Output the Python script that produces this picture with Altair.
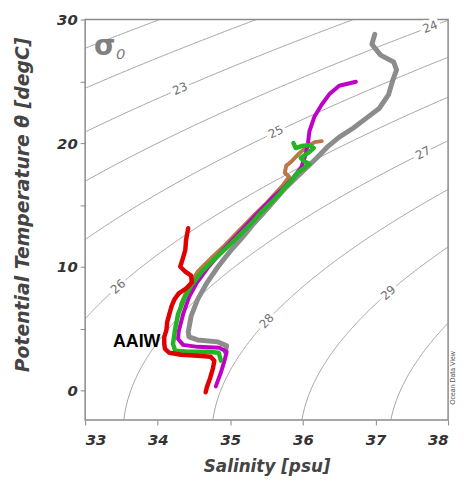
import altair as alt
import numpy as np
import pandas as pd

S_MIN, S_MAX = 33.0, 38.0
T_MIN, T_MAX = -2.4, 30.0
W, H = 367, 405

# ---- profiles (Salinity, Potential temperature) ----
gray_S = [36.99, 36.95, 37.07, 37.25, 37.29, 37.24, 37.18, 37.05, 36.87, 36.69, 36.50, 36.35, 36.19, 36.05, 35.92,
          35.75, 35.60, 35.45, 35.31, 35.17, 34.99, 34.83, 34.68, 34.55, 34.46, 34.42, 34.43, 34.55, 34.83, 34.95, 34.93]
gray_T = [28.8, 28.0, 27.12, 26.56, 25.92, 25.12, 23.92, 22.8, 22.0, 21.2, 20.48, 19.76, 18.8, 18.0, 17.28,
          16.32, 15.3, 14.3, 13.4, 12.4, 11.2, 10.0, 8.72, 7.36, 6.0, 4.72, 4.32, 4.08, 3.92, 3.6, 3.12]

brown_S = [36.26, 36.16, 36.05, 35.94, 35.85, 35.77, 35.75, 35.81, 35.72, 35.51, 35.30, 35.10, 34.93, 34.74, 34.55, 34.42, 34.32]
brown_T = [20.16, 20.08, 19.68, 19.12, 18.56, 18.16, 17.6, 17.28, 16.56, 15.2, 14.0, 12.8, 11.76, 10.72, 9.6, 8.32, 6.96]

magenta_S = [36.73, 36.50, 36.37, 36.26, 36.16, 36.09, 36.07, 36.04, 35.98, 35.87, 35.74, 35.57, 35.40, 35.21, 35.03,
             34.85, 34.69, 34.54, 34.43, 34.35, 34.29, 34.28, 34.35, 34.55, 34.85, 34.95, 34.92, 34.87, 34.80]
magenta_T = [24.96, 24.64, 24.0, 23.12, 22.16, 20.96, 20.0, 19.12, 18.08, 17.2, 16.4, 15.52, 14.48, 13.28, 12.16,
             11.04, 9.92, 8.72, 7.52, 6.16, 4.8, 4.16, 3.68, 3.52, 3.44, 3.12, 2.4, 1.44, 0.32]

green_S = [35.87, 35.90, 35.98, 36.09, 36.15, 36.07, 35.97, 36.01, 36.09, 36.02, 35.94, 35.89, 35.83, 35.75, 35.67,
           35.55, 35.41, 35.33, 35.17, 34.99, 34.80, 34.62, 34.47, 34.36, 34.28, 34.24, 34.21, 34.24, 34.42, 34.69, 34.84, 34.87]
green_T = [20.0, 19.6, 19.76, 19.84, 19.6, 19.2, 18.8, 18.56, 18.32, 18.0, 17.68, 17.36, 16.88, 16.4, 15.84,
           15.12, 14.32, 13.76, 12.8, 11.76, 10.72, 9.68, 8.56, 7.36, 6.16, 4.96, 3.76, 3.2, 3.12, 3.12, 3.04, 2.4]

red_S = [34.42, 34.39, 34.38, 34.34, 34.31, 34.38, 34.46, 34.47, 34.39, 34.29, 34.23, 34.19, 34.16, 34.13, 34.12,
         34.09, 34.09, 34.10, 34.16, 34.32, 34.55, 34.73, 34.78, 34.76, 34.72, 34.68, 34.66]
red_T = [13.12, 12.16, 11.36, 10.56, 10.0, 9.6, 9.28, 8.72, 8.24, 7.84, 7.36, 6.8, 6.16, 5.52, 4.88,
         4.32, 3.76, 3.36, 3.04, 2.88, 2.8, 2.72, 2.4, 1.76, 0.96, 0.32, -0.16]

sigma_levels = [21, 22, 23, 24, 25, 26, 27, 28, 29, 30]
label_levels = [23, 24, 25, 26, 27, 28, 29]
label_T = [24.4, 29.4, 20.9, 8.4, 19.2, 5.6, 7.9]

x_ticks = [33, 33.5, 34, 34.5, 35, 35.5, 36, 36.5, 37, 37.5, 38]
y_ticks = [0, 5, 10, 15, 20, 25, 30]


def sigma0(S, T):
    rw = (999.842594 + 6.793952e-2 * T - 9.095290e-3 * T**2 + 1.001685e-4 * T**3
          - 1.120083e-6 * T**4 + 6.536332e-9 * T**5)
    A = 8.24493e-1 - 4.0899e-3 * T + 7.6438e-5 * T**2 - 8.2467e-7 * T**3 + 5.3875e-9 * T**4
    B = -5.72466e-3 + 1.0227e-4 * T - 1.6546e-6 * T**2
    return rw + A * S + B * S**1.5 + 4.8314e-4 * S**2 - 1000.0


def s_for_sigma(level, T):
    T = np.asarray(T, dtype=float)
    S = np.full_like(T, 35.0)
    for _ in range(40):
        f = sigma0(S, T) - level
        d = (sigma0(S + 1e-4, T) - sigma0(S - 1e-4, T)) / 2e-4
        S = S - f / d
    return S


Tg = np.linspace(T_MIN, T_MAX, 400)
rows = []
for lv in sigma_levels:
    Sg = s_for_sigma(lv, Tg)
    for s, t in zip(Sg, Tg):
        if 31.5 < s < 39.5:
            rows.append({"level": lv, "S": s, "T": t})
cont = pd.DataFrame(rows)

px_S = W / (S_MAX - S_MIN)
px_T = H / (T_MAX - T_MIN)
lab_rows = []
for lv, t in zip(label_levels, label_T):
    s = float(s_for_sigma(lv, [t])[0])
    s1 = float(s_for_sigma(lv, [t + 0.1])[0])
    s0 = float(s_for_sigma(lv, [t - 0.1])[0])
    ang = np.degrees(np.arctan2(-0.2 * px_T, (s1 - s0) * px_S)) % 360
    lab_rows.append({"level": str(lv), "S": s, "T": t, "angle": ang})
labs = pd.DataFrame(lab_rows)

xs = alt.Scale(domain=[S_MIN, S_MAX], nice=False, zero=False)
ys = alt.Scale(domain=[T_MIN, T_MAX], nice=False, zero=False)

xax = alt.Axis(values=x_ticks, labelExpr="datum.value % 1 === 0 ? format(datum.value, 'd') : ''",
               title="Salinity [psu]", grid=False, domain=False, tickColor="#888", tickSize=5,
               labelFont="DejaVu Sans", labelFontWeight="bold", labelFontStyle="italic", labelFontSize=15,
               labelColor="#333", labelPadding=8, titleFont="DejaVu Sans", titleFontWeight="bold",
               titleFontStyle="italic", titleFontSize=17, titleColor="#444", titlePadding=11)
yax = alt.Axis(values=y_ticks, labelExpr="datum.value % 10 === 0 ? format(datum.value, 'd') : ''",
               title="Potential Temperature θ [degC]", grid=False, domain=False, tickColor="#888", tickSize=5,
               labelFont="DejaVu Sans", labelFontWeight="bold", labelFontStyle="italic", labelFontSize=15,
               labelColor="#333", labelPadding=3, titleFont="DejaVu Sans", titleFontWeight="bold",
               titleFontStyle="italic", titleFontSize=19, titleColor="#444", titleX=-53, titleY=187)

base = alt.Chart(cont).mark_line(clip=True, color="#9a9a9a", strokeWidth=0.9).encode(
    x=alt.X("S:Q", scale=xs, axis=xax),
    y=alt.Y("T:Q", scale=ys, axis=yax),
    detail="level:N",
    order="T:Q",
)

halo = alt.Chart(labs).mark_text(font="DejaVu Sans", fontSize=12, color="white", stroke="white",
                                 strokeWidth=7).encode(
    x=alt.X("S:Q", scale=xs), y=alt.Y("T:Q", scale=ys), text="level:N",
    angle=alt.Angle("angle:Q", scale=None))
labtxt = alt.Chart(labs).mark_text(font="DejaVu Sans", fontSize=12, color="#707070").encode(
    x=alt.X("S:Q", scale=xs), y=alt.Y("T:Q", scale=ys), text="level:N",
    angle=alt.Angle("angle:Q", scale=None))


def prof(S, T, color, width):
    df = pd.DataFrame({"S": S, "T": T, "i": range(len(S))})
    return alt.Chart(df).mark_line(color=color, strokeWidth=width, strokeCap="round",
                                   strokeJoin="round", clip=True).encode(
        x=alt.X("S:Q", scale=xs), y=alt.Y("T:Q", scale=ys), order="i:Q")


layers = [base, halo, labtxt,
          prof(gray_S, gray_T, "#8c8c8c", 5),
          prof(brown_S, brown_T, "#b8784a", 4),
          prof(magenta_S, magenta_T, "#c000c8", 4),
          prof(green_S, green_T, "#22b422", 4.5),
          prof(red_S, red_T, "#e00000", 4.5)]

ann = pd.DataFrame({"S": [33.27], "T": [27.8], "t": ["σ"]})
sig = alt.Chart(ann).mark_text(font="DejaVu Sans", fontSize=28, fontWeight="bold", color="#808080").encode(
    x=alt.X("S:Q", scale=xs), y=alt.Y("T:Q", scale=ys), text="t:N")
sub = alt.Chart(pd.DataFrame({"S": [33.49], "T": [27.2], "t": ["0"]})).mark_text(
    font="DejaVu Sans", fontSize=15, fontStyle="italic", color="#808080").encode(
    x=alt.X("S:Q", scale=xs), y=alt.Y("T:Q", scale=ys), text="t:N")
aaiw = alt.Chart(pd.DataFrame({"S": [33.71], "T": [3.92], "t": ["AAIW"]})).mark_text(
    font="Liberation Sans", fontSize=18, fontWeight="bold", color="#000").encode(
    x=alt.X("S:Q", scale=xs), y=alt.Y("T:Q", scale=ys), text="t:N")
odv = alt.Chart(pd.DataFrame({"S": [38.065], "T": [1.0], "t": ["Ocean Data View"]})).mark_text(
    font="Liberation Sans", fontSize=7, color="#555", angle=270).encode(
    x=alt.X("S:Q", scale=xs), y=alt.Y("T:Q", scale=ys), text="t:N")

chart = alt.layer(*layers, sig, sub, aaiw, odv).properties(
    width=W, height=H,
    autosize=alt.AutoSizeParams(type="none"),
    padding={"left": 78, "top": 9, "right": 8, "bottom": 56},
    background="white",
).configure_view(stroke="#8a8a8a", strokeWidth=1.5)

chart.save("out.html", embed_options={"renderer": "svg", "actions": False})
